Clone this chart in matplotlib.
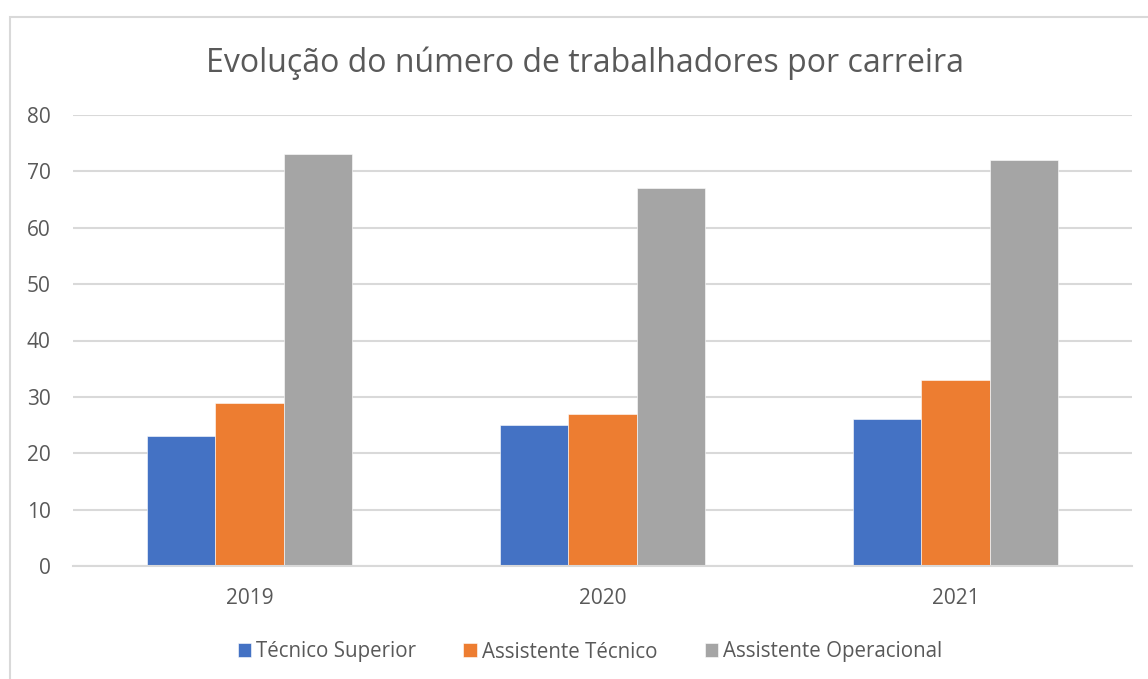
import numpy as np
import matplotlib.pyplot as plt
from matplotlib.patches import Rectangle

# Data
years = ['2019', '2020', '2021']
series_names = ['Técnico Superior', 'Assistente Técnico', 'Assistente Operacional']
tecnico_superior = [23, 25, 26]
assistente_tecnico = [29, 27, 33]
assistente_operacional = [73, 67, 72]
colors = ['#4472C4', '#ED7D31', '#A5A5A5']

plt.rcParams['font.family'] = ['Open Sans', 'DejaVu Sans']
text_color = '#595959'
grid_color = '#D9D9D9'

fig = plt.figure(figsize=(11.48, 6.79), dpi=100)
ax = fig.add_axes([73 / 1148, 1 - 566 / 679, (1132 - 73) / 1148, (566 - 115) / 679])

# chart border (runs off the right and bottom of the picture)
fig.patches.append(Rectangle((9.5 / 1148, -0.1), 1.2, 1 - 16.5 / 679 + 0.1,
                             transform=fig.transFigure, fill=False,
                             edgecolor=grid_color, linewidth=1.5))

x = np.arange(len(years))
width = 1 / (3 + 2.19)  # Excel default gap width of 219%
values = [tecnico_superior, assistente_tecnico, assistente_operacional]
for i, (name, vals) in enumerate(zip(series_names, values)):
    ax.bar(x + (i - 1) * width, vals, width, color=colors[i], label=name,
           edgecolor='white', linewidth=0.4, zorder=3)

ax.set_xlim(-0.5, 2.5)
ax.set_ylim(0, 80)
ax.set_yticks(range(0, 81, 10))
ax.set_xticks(x)
ax.set_xticklabels(years)
ax.yaxis.grid(True, color=grid_color, linewidth=1.5, zorder=0)
for s in ['top', 'right', 'left']:
    ax.spines[s].set_visible(False)
ax.spines['bottom'].set_color(grid_color)
ax.spines['bottom'].set_linewidth(1.5)
ax.spines['bottom'].set_zorder(4)
ax.tick_params(axis='both', length=0, labelsize=15, colors=text_color)
ax.tick_params(axis='x', pad=16)
ax.tick_params(axis='y', pad=16)

fig.text(585 / 1148, 1 - 63 / 679, 'Evolução do número de trabalhadores por carreira',
         ha='center', va='center', fontsize=23, color=text_color)

leg = ax.legend(loc='center', bbox_to_anchor=(590 / 1148, 1 - 652 / 679),
                bbox_transform=fig.transFigure, ncol=3, frameon=False,
                fontsize=14.8, handlelength=0.65, handleheight=0.65,
                handletextpad=0.25, columnspacing=2.3)
for t in leg.get_texts():
    t.set_color(text_color)

fig.savefig('out.png', dpi=100)
